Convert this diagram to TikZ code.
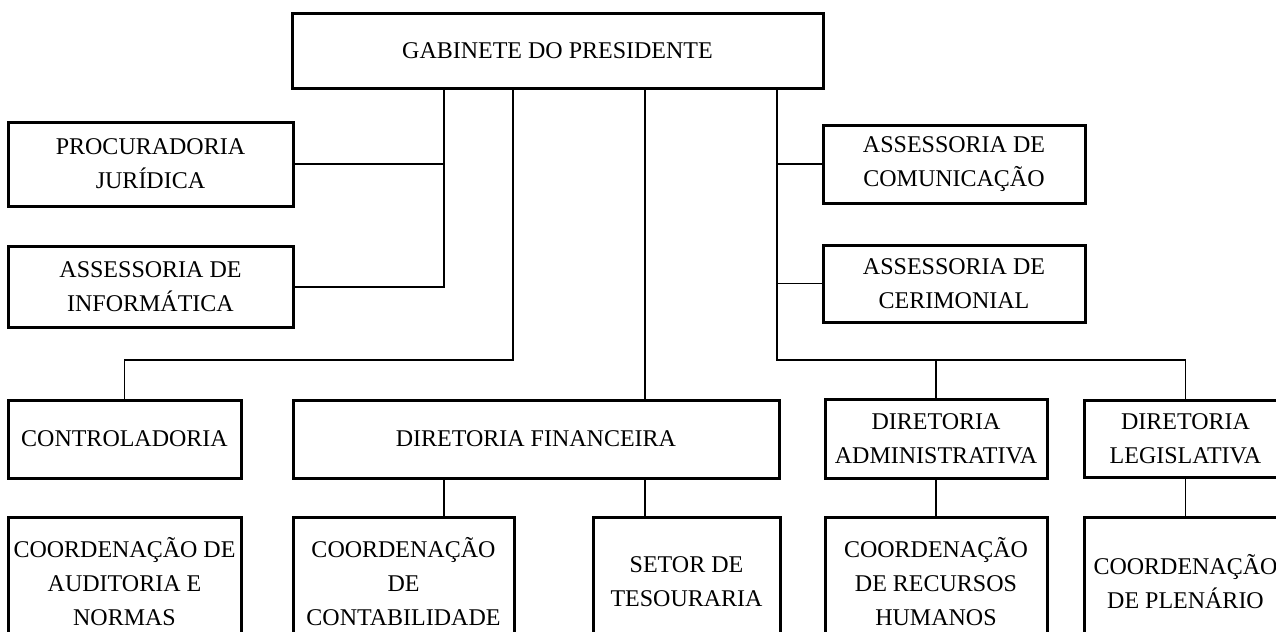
\documentclass[tikz,border=0pt]{standalone}
\usepackage{fontspec}
\setmainfont{Liberation Serif}

\tikzset{
  orgbox/.style={draw, line width=1.5pt, align=center, inner sep=0pt,
    font=\fontsize{12}{17}\selectfont},
  link/.style={line width=0.7pt}
}

\begin{document}
\begin{tikzpicture}[x=0.5pt,y=-0.5pt]
\useasboundingbox (0,0) rectangle (1276,632);
\clip (0,0) rectangle (1276,632);

% top and staff units
\node[orgbox, minimum width=265.5pt, minimum height=37.5pt] (gab) at (557.5,50.5) {GABINETE DO PRESIDENTE};
\node[orgbox, minimum width=142.5pt, minimum height=42pt] (proc) at (150.5,164) {PROCURADORIA\\JURÍDICA};
\node[orgbox, minimum width=142.5pt, minimum height=40.5pt] (info) at (150.5,287) {ASSESSORIA DE\\INFORMÁTICA};
\node[orgbox, minimum width=131pt, minimum height=39pt] (comu) at (954,164) {ASSESSORIA DE\\COMUNICAÇÃO};
\node[orgbox, minimum width=131pt, minimum height=38.5pt] (ceri) at (954,283.5) {ASSESSORIA DE\\CERIMONIAL};

% directorates
\node[orgbox, minimum width=116.5pt, minimum height=39pt] (ctrl) at (124.5,439) {CONTROLADORIA};
\node[orgbox, minimum width=243pt, minimum height=39pt] (dfin) at (536,439) {DIRETORIA FINANCEIRA};
\node[orgbox, minimum width=111pt, minimum height=39.5pt] (dadm) at (936,438.5) {DIRETORIA\\ADMINISTRATIVA};
\node[orgbox, minimum width=101pt, minimum height=38.5pt] (dleg) at (1185.5,438.5) {DIRETORIA\\LEGISLATIVA};

% lower row
\node[orgbox, minimum width=116.5pt, minimum height=65pt] (caud) at (124.5,582) {COORDENAÇÃO DE\\AUDITORIA E\\NORMAS};
\node[orgbox, minimum width=110.5pt, minimum height=65pt] (ccon) at (403.5,582) {COORDENAÇÃO\\DE\\CONTABILIDADE};
\node[orgbox, minimum width=93.5pt, minimum height=65pt] (stes) at (686.5,582) {SETOR DE\\TESOURARIA};
\node[orgbox, minimum width=111pt, minimum height=65pt] (crh) at (936,582) {COORDENAÇÃO\\DE RECURSOS\\HUMANOS};
\node[orgbox, minimum width=101pt, minimum height=65pt] (cple) at (1185.5,582) {COORDENAÇÃO\\DE PLENÁRIO};

% branch points
\coordinate (tapA) at (444,0);
\coordinate (tapC) at (645,0);
\coordinate (busL) at (513,360);
\coordinate (busR) at (777,360);

\draw[link] (gab.south -| tapA) |- (info.east);
\draw[link] (proc.east) -- (proc.east -| tapA);
\draw[link] (gab.south -| busL) -- (busL) -| (ctrl.north);
\draw[link] (gab.south -| tapC) -- (dfin.north -| tapC);
\draw[link] (gab.south -| busR) -- (busR) -| (dleg.north);
\draw[link] (busR) -| (dadm.north);
\draw[link] (comu.west) -- (comu.west -| busR);
\draw[link] (ceri.west) -- (ceri.west -| busR);
\draw[link] (dfin.south -| tapA) -- (ccon.north -| tapA);
\draw[link] (dfin.south -| tapC) -- (stes.north -| tapC);
\draw[link] (dadm.south) -- (crh.north);
\draw[link] (dleg.south) -- (cple.north);
\end{tikzpicture}
\end{document}
